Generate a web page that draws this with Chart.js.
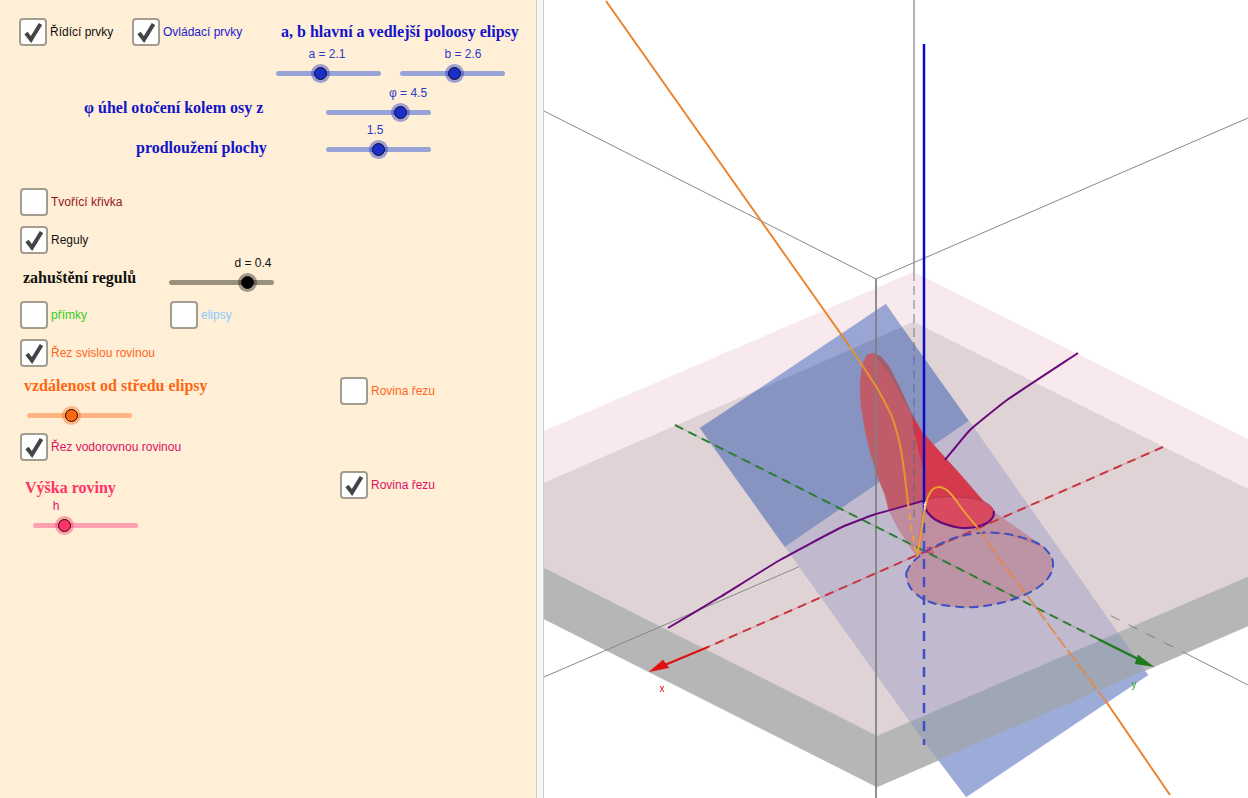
<!DOCTYPE html>
<html lang="cs">
<head>
<meta charset="utf-8">
<title>Rez plochou</title>
<script src="https://cdn.jsdelivr.net/npm/chart.js@4"></script>
<style>
html, body { margin: 0; padding: 0; width: 1248px; height: 798px; overflow: hidden; background: #fff; }
#panel { position: absolute; left: 0; top: 0; width: 536px; height: 798px; background: #ffefd6; }
#gap { position: absolute; left: 536px; top: 0; width: 6px; height: 798px; background: #f6f6f6; border-left: 1px solid #ccc; border-right: 1px solid #ccc; }
#view { position: absolute; left: 544px; top: 0; width: 704px; height: 798px; }
.t { position: absolute; white-space: nowrap; transform: translateY(-50%); }
.h { font: bold 16px "Liberation Serif", serif; }
.s { font: 12px "Liberation Sans", sans-serif; }
.v { font: 12px "Liberation Sans", sans-serif; transform: translate(-50%, -50%); }
.box { position: absolute; width: 24px; height: 24px; margin: -14px 0 0 -14px; background: #fff; border: 2px solid #a39d90; border-radius: 4px; }
.box svg { position: absolute; left: 1px; top: 1px; }
.track { position: absolute; width: 105px; height: 5px; margin-top: -2.5px; border-radius: 3px; }
.knob { position: absolute; width: 11px; height: 11px; margin: -6.5px 0 0 -6.5px; border: 1.5px solid #111; border-radius: 50%; }
.halo { position: absolute; width: 19px; height: 19px; margin: -9.5px 0 0 -9px; border-radius: 50%; opacity: .42; }
</style>
</head>
<body>
<div id="panel">
  <div class="box" style="left:33px;top:32px"><svg width="22" height="22"><path d="M4 12 L9 18.5 L18.5 3" fill="none" stroke="#444" stroke-width="4"/></svg></div>
  <div class="t s" style="left:50px;top:32px;color:#111">Řídící prvky</div>
  <div class="box" style="left:146px;top:32px"><svg width="22" height="22"><path d="M4 12 L9 18.5 L18.5 3" fill="none" stroke="#444" stroke-width="4"/></svg></div>
  <div class="t s" style="left:163px;top:32px;color:#1a1ad0">Ovládací prvky</div>
  <div class="t h" style="left:281px;top:32px;color:#1414c8">a, b hlavní a vedlejší poloosy elipsy</div>

  <div class="t v" style="left:327px;top:54px;color:#2a3bc8">a = 2.1</div>
  <div class="track" style="left:276px;top:73px;background:#98a4d8"></div>
  <div class="halo" style="left:320px;top:73px;background:#1a2ecc"></div>
  <div class="knob" style="left:320px;top:73px;background:#1a2ecc"></div>
  <div class="t v" style="left:463px;top:54px;color:#2a3bc8">b = 2.6</div>
  <div class="track" style="left:400px;top:73px;background:#98a4d8"></div>
  <div class="halo" style="left:454px;top:73px;background:#1a2ecc"></div>
  <div class="knob" style="left:454px;top:73px;background:#1a2ecc"></div>

  <div class="t h" style="left:84px;top:108px;color:#1414c8">φ úhel otočení kolem osy z</div>
  <div class="t v" style="left:408px;top:93px;color:#2a3bc8">φ = 4.5</div>
  <div class="track" style="left:326px;top:112px;background:#98a4d8"></div>
  <div class="halo" style="left:400px;top:112px;background:#1a2ecc"></div>
  <div class="knob" style="left:400px;top:112px;background:#1a2ecc"></div>

  <div class="t h" style="left:136px;top:148px;color:#1414c8">prodloužení plochy</div>
  <div class="t v" style="left:375px;top:130px;color:#2a3bc8">1.5</div>
  <div class="track" style="left:326px;top:149px;background:#98a4d8"></div>
  <div class="halo" style="left:378px;top:149px;background:#1a2ecc"></div>
  <div class="knob" style="left:378px;top:149px;background:#1a2ecc"></div>

  <div class="box" style="left:34px;top:202px"></div>
  <div class="t s" style="left:51px;top:202px;color:#99111f">Tvořící křivka</div>
  <div class="box" style="left:34px;top:240px"><svg width="22" height="22"><path d="M4 12 L9 18.5 L18.5 3" fill="none" stroke="#444" stroke-width="4"/></svg></div>
  <div class="t s" style="left:51px;top:240px;color:#111">Reguly</div>

  <div class="t h" style="left:23px;top:278px;color:#111">zahuštění regulů</div>
  <div class="t v" style="left:253px;top:263px;color:#111">d = 0.4</div>
  <div class="track" style="left:169px;top:282px;background:#99907e"></div>
  <div class="halo" style="left:247px;top:282px;background:#222"></div>
  <div class="knob" style="left:247px;top:282px;background:#000"></div>

  <div class="box" style="left:34px;top:315px"></div>
  <div class="t s" style="left:51px;top:315px;color:#33cc22">přímky</div>
  <div class="box" style="left:184px;top:315px"></div>
  <div class="t s" style="left:201px;top:315px;color:#88ccff">elipsy</div>
  <div class="box" style="left:34px;top:353px"><svg width="22" height="22"><path d="M4 12 L9 18.5 L18.5 3" fill="none" stroke="#444" stroke-width="4"/></svg></div>
  <div class="t s" style="left:51px;top:353px;color:#ff6622">Řez svislou rovinou</div>

  <div class="t h" style="left:24px;top:386px;color:#ff6611">vzdálenost od středu elipsy</div>
  <div class="box" style="left:354px;top:391px"></div>
  <div class="t s" style="left:371px;top:391px;color:#ff6622">Rovina řezu</div>
  <div class="track" style="left:27px;top:415px;background:#ffb482"></div>
  <div class="halo" style="left:71px;top:415px;background:#ff6611"></div>
  <div class="knob" style="left:71px;top:415px;background:#ff6611"></div>

  <div class="box" style="left:34px;top:447px"><svg width="22" height="22"><path d="M4 12 L9 18.5 L18.5 3" fill="none" stroke="#444" stroke-width="4"/></svg></div>
  <div class="t s" style="left:51px;top:447px;color:#dd1166">Řez vodorovnou rovinou</div>
  <div class="box" style="left:354px;top:485px"><svg width="22" height="22"><path d="M4 12 L9 18.5 L18.5 3" fill="none" stroke="#444" stroke-width="4"/></svg></div>
  <div class="t s" style="left:371px;top:485px;color:#dd1166">Rovina řezu</div>

  <div class="t h" style="left:25px;top:488px;color:#ff3366">Výška roviny</div>
  <div class="t v" style="left:56px;top:506px;color:#dd1166">h</div>
  <div class="track" style="left:33px;top:525px;background:#ffa0b0"></div>
  <div class="halo" style="left:64px;top:525px;background:#ff3366"></div>
  <div class="knob" style="left:64px;top:525px;background:#ff3366"></div>
</div>
<div id="gap"></div>
<div id="view"><canvas id="myChart" width="704" height="798"></canvas></div>

<script>
// values, x / y in the units of the view
const planeHigh = [[914,272],[544,431],[544,568],[877,736],[1248,577],[1248,439]];
const planeLow = [[914,322],[544,483],[544,568],[877,736],[1248,577],[1248,489]];
const slabSide = [[544,568],[877,736],[1248,577],[1248,626],[877,787],[544,619]];

const cutTip = [[886,304],[756,391],[902,327]];
const cutUpper = [[902,327],[756,391],[700,428],[785,547],[969,421]];
const cutMiddle = [[785,547],[969,421],[1118,633],[910,722]];
const cutOverSlab = [[910,722],[1118,633],[1145,671],[938,760]];
const cutBottom = [[938,760],[1145,671],[1148,675],[966,797]];

const boxTopLeft = [[544,111],[876,279]];
const boxTopRight = [[876,279],[1248,118]];
const boxFront = [[876,279],[876,798]];
const boxBack = [[914,0],[914,272]];
const boxBackHidden = [[914,272],[914,517]];
const floorLeft = [[544,677],[914,517]];
const floorRightHidden = [[914,517],[1183,652]];
const floorRight = [[1183,652],[1248,685]];

const lowerEllipse = [[906,573],[912,563],[925,552],[940,544],[958,537],[980,533],[1000,533],[1020,537],[1037,543],[1048,552],[1053,563],[1050,575],[1040,586],[1022,596],[1000,603],[975,607],[950,606],[930,602],[915,593],[908,583],[906,573]];
const shadowWedge = [[994,512],[1043,547],[1010,535],[973,533],[940,544],[917,557],[924,505],[936,520],[962,528],[987,523],[994,512]];
const lobeUpper = [[873,353],[867,355],[862,365],[860,385],[861,405],[865,430],[871,455],[879,480],[885,495],[889,511],[923,501],[924,470],[922,465],[913,417],[900,388],[888,365],[880,356]];
const lobeLower = [[889,511],[923,501],[925,527],[917,557],[897,527]];
const lobeBand = [[873,353],[880,356],[888,365],[900,388],[913,417],[905,402],[890,375]];
const coneTip = [[912,415],[925,437],[924,470],[922,465],[913,425]];
const cone = [[925,435],[940,452],[960,474],[985,503],[994,511],[993,517],[987,523],[976,527],[962,528],[948,525],[936,520],[928,513],[924,505],[924,470]];
const upperEllipse = [[924,505],[928,513],[936,520],[948,525],[962,528],[976,527],[987,523],[993,517],[994,511],[988,504],[975,499],[955,497],[940,497],[928,500],[924,505]];
const rimFront = [[924,505],[928,513],[936,520],[948,525],[962,528],[976,527],[987,523],[993,517],[994,511]];
const rimBack = [[994,511],[988,504],[975,499],[955,497],[940,497],[928,500],[924,505]];

const axisZ = [[924,44],[924,505]];
const axisZHidden = [[924,505],[924,745]];
const axisXHidden = [[1163,447],[708,647]];
const axisX = [[708,647],[660,667]];
const arrowX = [[649,672],[663,660],[669,668]];
const axisYHidden = [[675,425],[1098,639]];
const axisY = [[1098,639],[1140,660]];
const arrowY = [[1154,667],[1138,655],[1135,664]];

const hyperbolaLeft = [[668,628],[720,597],[780,560],[840,528],[873,515],[923,501]];
const hyperbolaRight = [[1078,353],[1007,400],[970,430],[945,460]];
const sectionStraight = [[606,1],[850,347]];
const sectionTop = [[850,347],[877,388],[892,417],[900,445],[904,470],[908,503]];
const sectionHidden = [[908,503],[911,527],[915,547],[917,557]];
const sectionArc = [[917,557],[922,527],[926,503],[932,490],[940,487],[950,493],[963,510],[977,527]];
const sectionDown = [[977,527],[1000,560],[1023,590],[1040,613],[1062,643],[1105,700]];
const sectionEnd = [[1105,700],[1170,795]];

const labelNames = ['x', 'y', 'f', 'a₁'];
const labelPoints = [[662,689],[1134,685],[925,507],[930,550]];
const labelColors = ['#e01010', '#22aa22', '#fff', '#d8203c'];

function pts(list) {
    return list.map(function (p) { return { x: p[0], y: p[1] }; });
}

function area(list, color, bend) {
    return { data: pts(list), showLine: true, fill: 'shape', backgroundColor: color, borderColor: color, borderWidth: 0.5, pointRadius: 0, tension: bend || 0 };
}

function line(list, color, width, dash, bend) {
    return { data: pts(list), showLine: true, fill: false, borderColor: color, borderWidth: width, borderDash: dash || [], pointRadius: 0, tension: bend || 0 };
}

// listed back to front, reversed below because the first dataset is painted last
const layers = [
    area(planeHigh, '#f7e9ec'),
    area(planeLow, '#dfd3d6'),
    area(slabSide, '#b6b6b6'),
    line(boxTopLeft, '#888', 1),
    line(boxTopRight, '#888', 1),
    line(floorLeft, '#888', 1),
    line(floorRightHidden, 'rgba(110,110,110,.8)', 1, [10, 10]),
    line(floorRight, '#888', 1),
    area(cutTip, '#99a6d4'),
    area(cutUpper, '#8794c2'),
    area(cutMiddle, '#c1b9cd'),
    area(cutOverSlab, '#9fa6b5'),
    area(cutBottom, '#9dabd8'),
    line(boxBack, '#999', 1.5),
    area(lowerEllipse, '#bc94a6', 0.4),
    area(shadowWedge, 'rgba(190,115,130,.6)', 0.1),
    area(lobeLower, 'rgba(190,110,125,.6)'),
    area(lobeUpper, '#c05c69'),
    area(lobeBand, 'rgba(115,95,115,.35)'),
    area(coneTip, '#d63347'),
    area(cone, '#d4394c'),
    area(upperEllipse, '#d94a60', 0.4),
    line(boxFront, 'rgba(125,125,125,.85)', 2),
    line(boxBackHidden, 'rgba(90,95,140,.55)', 1.5, [9, 5]),
    line(axisXHidden, 'rgba(200,60,70,.35)', 1),
    line(axisXHidden, '#c8343f', 2, [9, 6]),
    line(axisX, '#e01010', 2),
    area(arrowX, '#e01010'),
    line(axisYHidden, 'rgba(40,120,50,.3)', 1),
    line(axisYHidden, '#2e7d32', 2, [9, 6]),
    line(axisY, '#1f7a1f', 2.5),
    area(arrowY, '#1f7a1f'),
    line(axisZHidden, '#3e4fc8', 2.5, [10, 8]),
    line(axisZ, '#0a0ac8', 2.5),
    line(lowerEllipse, '#3f4fc0', 2, [9, 5], 0.4),
    line(rimBack, 'rgba(120,20,50,.35)', 1, [], 0.4),
    line(rimFront, '#6a0a7a', 2.2, [], 0.4),
    line(hyperbolaLeft, '#6a0a7a', 2, [], 0.12),
    line(hyperbolaRight, '#6a0a7a', 2, [], 0.12),
    line(sectionStraight, '#e8842c', 2),
    line(sectionTop, '#e8942c', 2, [], 0.2),
    line(sectionHidden, '#e8a040', 2, [6, 5]),
    line(sectionArc, '#eba030', 2, [], 0.3),
    line(sectionDown, 'rgba(230,135,60,.85)', 2, [14, 3], 0.1),
    line(sectionEnd, '#e8842c', 2)
];

const pointLabels = {
    id: 'pointLabels',
    afterDatasetsDraw(chart) {
        const c = chart.ctx;
        c.save();
        c.font = '10px "Liberation Sans", sans-serif';
        c.textAlign = 'center';
        c.textBaseline = 'middle';
        labelNames.forEach(function (name, i) {
            c.fillStyle = labelColors[i];
            c.fillText(name, chart.scales.x.getPixelForValue(labelPoints[i][0]), chart.scales.y.getPixelForValue(labelPoints[i][1]));
        });
        c.restore();
    }
};

const ctx = document.getElementById('myChart').getContext('2d');

const myChart = new Chart(ctx, {
    type: 'scatter',
    data: { datasets: layers.slice().reverse() },
    options: {
        responsive: false,
        animation: false,
        layout: { padding: 0 },
        scales: {
            x: { type: 'linear', min: 544, max: 1248, display: false },
            y: { type: 'linear', min: 0, max: 798, reverse: true, display: false }
        },
        plugins: {
            legend: { display: false },
            tooltip: { enabled: false }
        }
    },
    plugins: [pointLabels]
});
</script>
</body>
</html>
